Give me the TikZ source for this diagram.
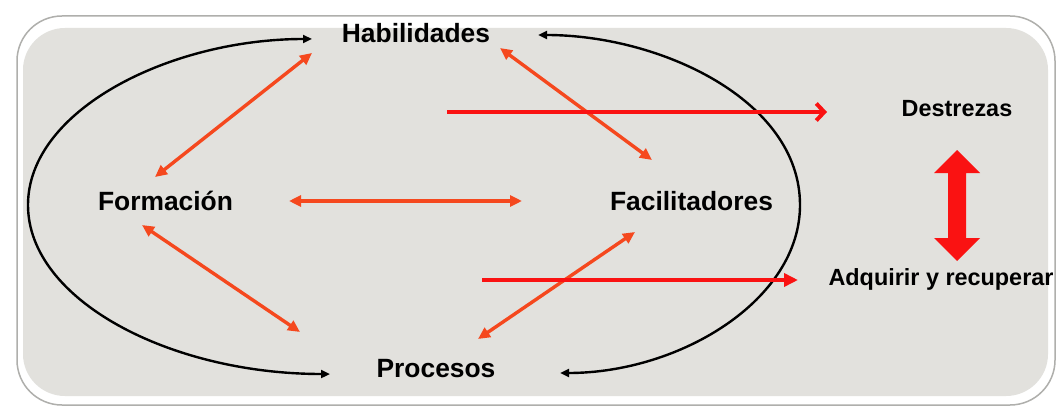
\documentclass[tikz,border=0pt]{standalone}
\usepackage{fontspec}
\setmainfont{Liberation Sans}
\usetikzlibrary{arrows.meta,calc}
\definecolor{panel}{RGB}{226,225,221}
\definecolor{rim}{RGB}{175,175,172}
\definecolor{orng}{RGB}{245,72,30}
\definecolor{rd}{RGB}{250,18,18}
\begin{document}
\begin{tikzpicture}[x=1pt,y=-1pt,
  lbl/.style={font=\bfseries\fontsize{26.4}{30}\selectfont,inner sep=0,anchor=base},
  slbl/.style={font=\bfseries\fontsize{23.4}{28}\selectfont,inner sep=0,anchor=base},
  link/.style={orng,line width=3.4pt,{Triangle[length=12pt,width=11pt]}-{Triangle[length=12pt,width=11pt]}},
  loop/.style={black,line width=2.4pt,{Triangle[length=9pt,width=8pt]}-{Triangle[length=9pt,width=8pt]}}]
\useasboundingbox (0,0) rectangle (1057,409);
\fill[white] (0,0) rectangle (1057,409);
\draw[rim,fill=white,line width=1.5pt,rounded corners=45pt] (17,16) rectangle (1055,405);
\fill[panel,rounded corners=42pt] (23,28) rectangle (1048,396);
\node[lbl] (hab) at (416,43) {Habilidades};
\node[lbl] (form) at (165.5,210) {Formación};
\node[lbl] (fac) at (691.5,210) {Facilitadores};
\node[lbl] (proc) at (436,377) {Procesos};
\node[slbl] (des) at (957,117) {Destrezas};
\node[slbl] (adq) at (941,285) {Adquirir y recuperar};
\coordinate (lft) at (28,205);
\coordinate (rgt) at (800,205);
\coordinate (s1) at (447,112);
\coordinate (s2) at (482,280);
% the loop round the four words
\draw[loop] ($(hab.base)+(-104,-4)$) .. controls (170,39) and (28,110) .. (lft)
  .. controls (28,300) and (170,374) .. ($(proc.base)+(-106,-3)$);
\draw[loop] ($(hab.base)+(122,-8)$) .. controls (660,35) and (800,100) .. (rgt)
  .. controls (800,300) and (680,373) .. ($(proc.base)+(124,-4)$);
% links
\draw[link] ($(form.base)+(-10.5,-33)$) -- ($(hab.base)+(-104,10)$);
\draw[link] ($(hab.base)+(84,5)$) -- ($(fac.base)+(-39.5,-50)$);
\draw[link] ($(form.base)+(123.5,-9)$) -- ($(fac.base)+(-169.5,-9)$);
\draw[link] ($(form.base)+(-23.5,15)$) -- ($(proc.base)+(-136,-45)$);
\draw[link] ($(fac.base)+(-56.5,22)$) -- ($(proc.base)+(42,-38)$);
\draw[rd,line width=4pt,-{Straight Barb[length=8pt,width=17pt]}] (s1) -- ($(des.base)+(-130,-5)$);
\draw[rd,line width=3.5pt,-{Triangle[length=14pt,width=13pt]}] (s2) -- ($(adq.base)+(-143,-5)$);
% big double arrow
\fill[rd] (957,150) -- (980,173) -- (966,173) -- (966,238) -- (980,238) -- (957,261)
  -- (934,238) -- (948,238) -- (948,173) -- (934,173) -- cycle;
\end{tikzpicture}
\end{document}
